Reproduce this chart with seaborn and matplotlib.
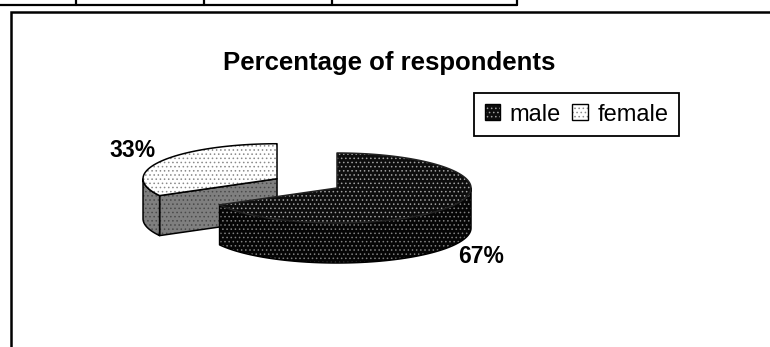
import numpy as np
import matplotlib
matplotlib.use("Agg")
import matplotlib.pyplot as plt
import seaborn as sns
from matplotlib.patches import Polygon, Patch

# 数据
labels = ["male", "female"]
values = [67, 33]
pct_labels = ["67%", "33%"]
title = "Percentage of respondents"

sns.set_theme(style="white")
plt.rcParams["font.family"] = ["Liberation Sans", "DejaVu Sans"]
plt.rcParams["text.color"] = "black"
plt.rcParams["hatch.linewidth"] = 0.6

# 样式 (top face, top hatch, side face, side hatch)
styles = {
    "male": ("#0d0d0d", "#a0a0a0", "#050505", "#808080"),
    "female": ("#ffffff", "#8a8a8a", "#7f7f7f", "#4a4a4a"),
}
explode = {"male": 0.0, "female": 0.52}
hatch = "...."

# 饼图几何 (像素单位)
cx, cy = 337, 188
rx, ry = 134, 35
depth = 40

fig = plt.figure(figsize=(7.7, 3.47), dpi=100)
ax = fig.add_axes([0, 0, 1, 1])
ax.set_xlim(0, 770)
ax.set_ylim(347, 0)
ax.axis("off")

# 表格残边和图表外框
ax.plot([0, 517], [5, 5], color="black", lw=1.6)
for x in [76, 204, 332, 517]:
    ax.plot([x, x], [0, 5], color="black", lw=1.6)
ax.plot([11, 11, 770], [347, 12, 12], color="black", lw=1.8, solid_joinstyle="miter")

fracs = np.array(values) / sum(values)
ends = 90 - np.cumsum(fracs) * 360
starts = np.r_[90, ends[:-1]]


def pt(t, ox, oy, dz=0):
    t = np.radians(t)
    return np.column_stack([cx + ox + rx * np.cos(t), cy + oy - ry * np.sin(t) + dz])


def shape(xy, face, hcol, edge="black", lw=1.1):
    ax.add_patch(Polygon(xy, closed=True, facecolor=face, edgecolor=hcol, hatch=hatch, lw=0))
    ax.add_patch(Polygon(xy, closed=True, fill=False, edgecolor=edge, lw=lw, joinstyle="round"))


# 先画女性(后面)再画男性
order = [1, 0]
for i in order:
    name = labels[i]
    s, e = starts[i], ends[i]
    mid = np.radians((s + e) / 2)
    ox = explode[name] * rx * np.cos(mid)
    oy = -explode[name] * ry * np.sin(mid)
    top_f, top_h, side_f, side_h = styles[name]
    c = np.array([[cx + ox, cy + oy]])

    # 径向面 (朝向观众时可见)
    for ang, nrm in [(s, s + 90), (e, e - 90)]:
        if np.sin(np.radians(nrm)) < -1e-6:
            p = pt(np.array([ang]), ox, oy)
            quad = np.vstack([c, p, p + [0, depth], c + [0, depth]])
            shape(quad, side_f, side_h)

    # 外侧面
    t = np.linspace(s, e, 400)
    vis = np.sin(np.radians(t)) <= 0
    if vis.any():
        arc = pt(t[vis], ox, oy)
        side = np.vstack([arc, pt(t[vis], ox, oy, depth)[::-1]])
        shape(side, side_f, side_h)

    # 顶面
    top = np.vstack([c, pt(t, ox, oy)])
    shape(top, top_f, top_h, edge="black" if name == "female" else "#222222")

    # 百分比标签
    lx = cx + ox + 1.25 * rx * np.cos(mid)
    ly = cy + oy - 1.6 * ry * np.sin(mid) + (depth if np.sin(mid) < 0 else 0)
    ax.text(lx, ly, pct_labels[i], ha="center", va="center",
            fontsize=16.5, fontweight="bold", color="black")

ax.text(389, 63, title, ha="center", va="center", fontsize=18.5,
        fontweight="bold", color="black")

handles = []
for name in labels:
    top_f, top_h, _, _ = styles[name]
    handles.append((Patch(facecolor=top_f, edgecolor=top_h, hatch=hatch, lw=0),
                    Patch(fill=False, edgecolor="black", lw=1.0)))
leg = ax.legend(handles, labels, loc="upper left", bbox_to_anchor=(474, 93),
                bbox_transform=ax.transData, ncol=2, fontsize=17,
                frameon=True, fancybox=False, framealpha=1, edgecolor="black",
                handlelength=0.65, handleheight=0.65, handletextpad=0.4,
                columnspacing=0.5, borderpad=0.45, borderaxespad=0)
leg.get_frame().set_linewidth(1.3)

fig.savefig("out.png", dpi=100)
